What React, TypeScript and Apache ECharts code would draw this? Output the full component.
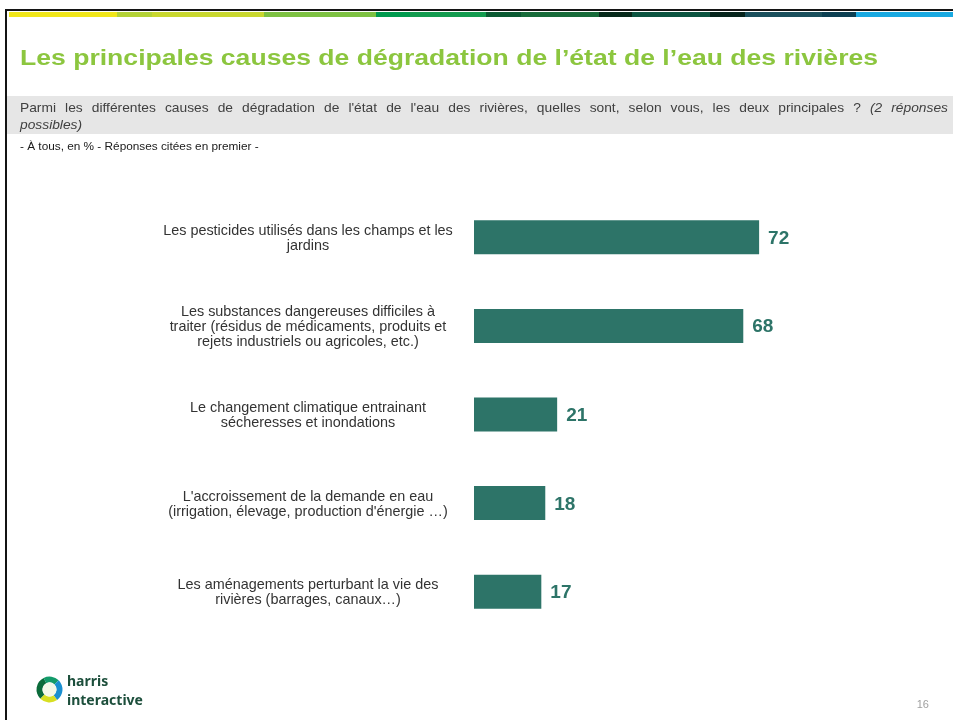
import React, { useEffect, useRef } from 'react';
import * as echarts from 'echarts';

const categories = [
  'Les pesticides utilisés dans les champs et les\njardins',
  'Les substances dangereuses difficiles à\ntraiter (résidus de médicaments, produits et\nrejets industriels ou agricoles, etc.)',
  'Le changement climatique entrainant\nsécheresses et inondations',
  "L'accroissement de la demande en eau\n(irrigation, élevage, production d'énergie …)",
  'Les aménagements perturbant la vie des\nrivières (barrages, canaux…)',
];
const values = [72, 68, 21, 18, 17];

const titleText = 'Les principales causes de dégradation de l’état de l’eau des rivières';
const questionLine1 = "Parmi les différentes causes de dégradation de l'état de l'eau des rivières, quelles sont, selon vous, les deux principales ?";
const questionItalic1 = '(2 réponses';
const questionItalic2 = 'possibles)';
const baseText = '- À tous, en % - Réponses citées en premier -';
const pageNumber = '16';

const FONT = 'Arial, "Liberation Sans", sans-serif';
const BAR = '#2d7468';
const SX = 1.15;

const stripe: [number, number, string][] = [
  [9, 117, '#f0e619'],
  [117, 152, '#b3d236'],
  [152, 264, '#c8d72f'],
  [264, 376, '#7dc142'],
  [376, 410, '#009a4e'],
  [410, 486, '#149b4f'],
  [486, 521, '#0a5a32'],
  [521, 599, '#176b3a'],
  [599, 632, '#06291a'],
  [632, 710, '#0b5440'],
  [710, 745, '#06241c'],
  [745, 822, '#1a4f5c'],
  [822, 856, '#0c3f52'],
  [856, 953, '#19a9e1'],
];

function justifiedWords() {
  const canvas = document.createElement('canvas');
  const ctx = canvas.getContext('2d')!;
  const words: { t: string; italic: boolean }[] = [
    ...questionLine1.split(' ').map((t) => ({ t, italic: false })),
    ...questionItalic1.split(' ').map((t) => ({ t, italic: true })),
  ];
  const widths = words.map((w) => {
    ctx.font = `${w.italic ? 'italic ' : ''}12px ${FONT}`;
    return ctx.measureText(w.t).width * SX;
  });
  const left = 20;
  const right = 948;
  const total = widths.reduce((a, b) => a + b, 0);
  const gap = (right - left - total) / (words.length - 1);
  const out: any[] = [];
  let x = left;
  words.forEach((w, i) => {
    out.push({
      type: 'text',
      x,
      y: 108,
      scaleX: SX,
      style: {
        text: w.t,
        font: `${w.italic ? 'italic ' : ''}12px ${FONT}`,
        fill: '#404040',
        verticalAlign: 'middle',
      },
    });
    x += widths[i] + gap;
  });
  return out;
}

export default function App() {
  const ref = useRef<HTMLDivElement>(null);
  useEffect(() => {
    if (!ref.current) return;
    const chart = echarts.init(ref.current, undefined, { renderer: 'svg' });
    const graphic: any[] = [
      { type: 'rect', shape: { x: 7, y: 96, width: 946, height: 38 }, style: { fill: '#e6e6e6' }, z: -1 },
      { type: 'rect', shape: { x: 6, y: 9, width: 947, height: 2 }, style: { fill: '#141414' } },
      { type: 'rect', shape: { x: 5, y: 9, width: 2, height: 711 }, style: { fill: '#141414' } },
      ...stripe.map(([a, b, c]) => ({
        type: 'rect',
        shape: { x: a, y: 12, width: b - a, height: 5 },
        style: { fill: c },
      })),
      {
        type: 'text',
        x: 20,
        y: 57,
        scaleX: 1.156,
        style: { text: titleText, font: `bold 23px ${FONT}`, fill: '#8cc63f', verticalAlign: 'middle' },
      },
      ...justifiedWords(),
      {
        type: 'text',
        x: 20,
        y: 125,
        scaleX: SX,
        style: { text: questionItalic2, font: `italic 12px ${FONT}`, fill: '#404040', verticalAlign: 'middle' },
      },
      {
        type: 'text',
        x: 20,
        y: 146,
        style: { text: baseText, font: `11.8px ${FONT}`, fill: '#1a1a1a', verticalAlign: 'middle' },
      },
      {
        type: 'text',
        x: 929,
        y: 704,
        style: { text: pageNumber, font: `11px ${FONT}`, fill: '#a0a0a0', align: 'right', verticalAlign: 'middle' },
      },
      // logo
      { type: 'sector', shape: { cx: 49.5, cy: 689.5, r: 13, r0: 7, startAngle: Math.PI * 0.75, endAngle: Math.PI * 1.35 }, style: { fill: '#0b6b3a' } },
      { type: 'sector', shape: { cx: 49.5, cy: 689.5, r: 13, r0: 7, startAngle: Math.PI * 1.35, endAngle: Math.PI * 1.75 }, style: { fill: '#139b6a' } },
      { type: 'sector', shape: { cx: 49.5, cy: 689.5, r: 13, r0: 7, startAngle: Math.PI * 1.75, endAngle: Math.PI * 2.3 }, style: { fill: '#1a8fd0' } },
      { type: 'sector', shape: { cx: 49.5, cy: 689.5, r: 13, r0: 7, startAngle: Math.PI * 0.3, endAngle: Math.PI * 0.75 }, style: { fill: '#d8df22' } },
      { type: 'circle', shape: { cx: 49.5, cy: 689.5, r: 7 }, style: { fill: '#f4f8e8' } },
      {
        type: 'text',
        x: 67,
        y: 680,
        style: { text: 'harris', font: `bold 14px "Noto Sans", ${FONT}`, fill: '#1d4f3c', verticalAlign: 'middle' },
      },
      {
        type: 'text',
        x: 67,
        y: 699,
        style: { text: 'interactive', font: `bold 14px "Noto Sans", ${FONT}`, fill: '#1d4f3c', verticalAlign: 'middle' },
      },
    ];
    chart.setOption({
      animation: false,
      graphic,
      grid: { left: 474, width: 396, top: 193, height: 443, containLabel: false },
      xAxis: { type: 'value', min: 0, max: 100, show: false },
      yAxis: {
        type: 'category',
        inverse: true,
        data: categories,
        axisLine: { show: false },
        axisTick: { show: false },
        axisLabel: {
          align: 'center',
          margin: 166,
          fontFamily: FONT,
          fontSize: 14.4,
          lineHeight: 15,
          color: '#333333',
        },
      },
      series: [
        {
          type: 'bar',
          data: values,
          barWidth: 34,
          itemStyle: { color: BAR },
          label: {
            show: true,
            position: 'right',
            distance: 9,
            fontFamily: FONT,
            fontWeight: 'bold',
            fontSize: 19,
            color: BAR,
          },
        },
      ],
    });
    return () => chart.dispose();
  }, []);
  return <div ref={ref} style={{ position: 'fixed', left: 0, top: 0, width: 953, height: 720 }} />;
}
